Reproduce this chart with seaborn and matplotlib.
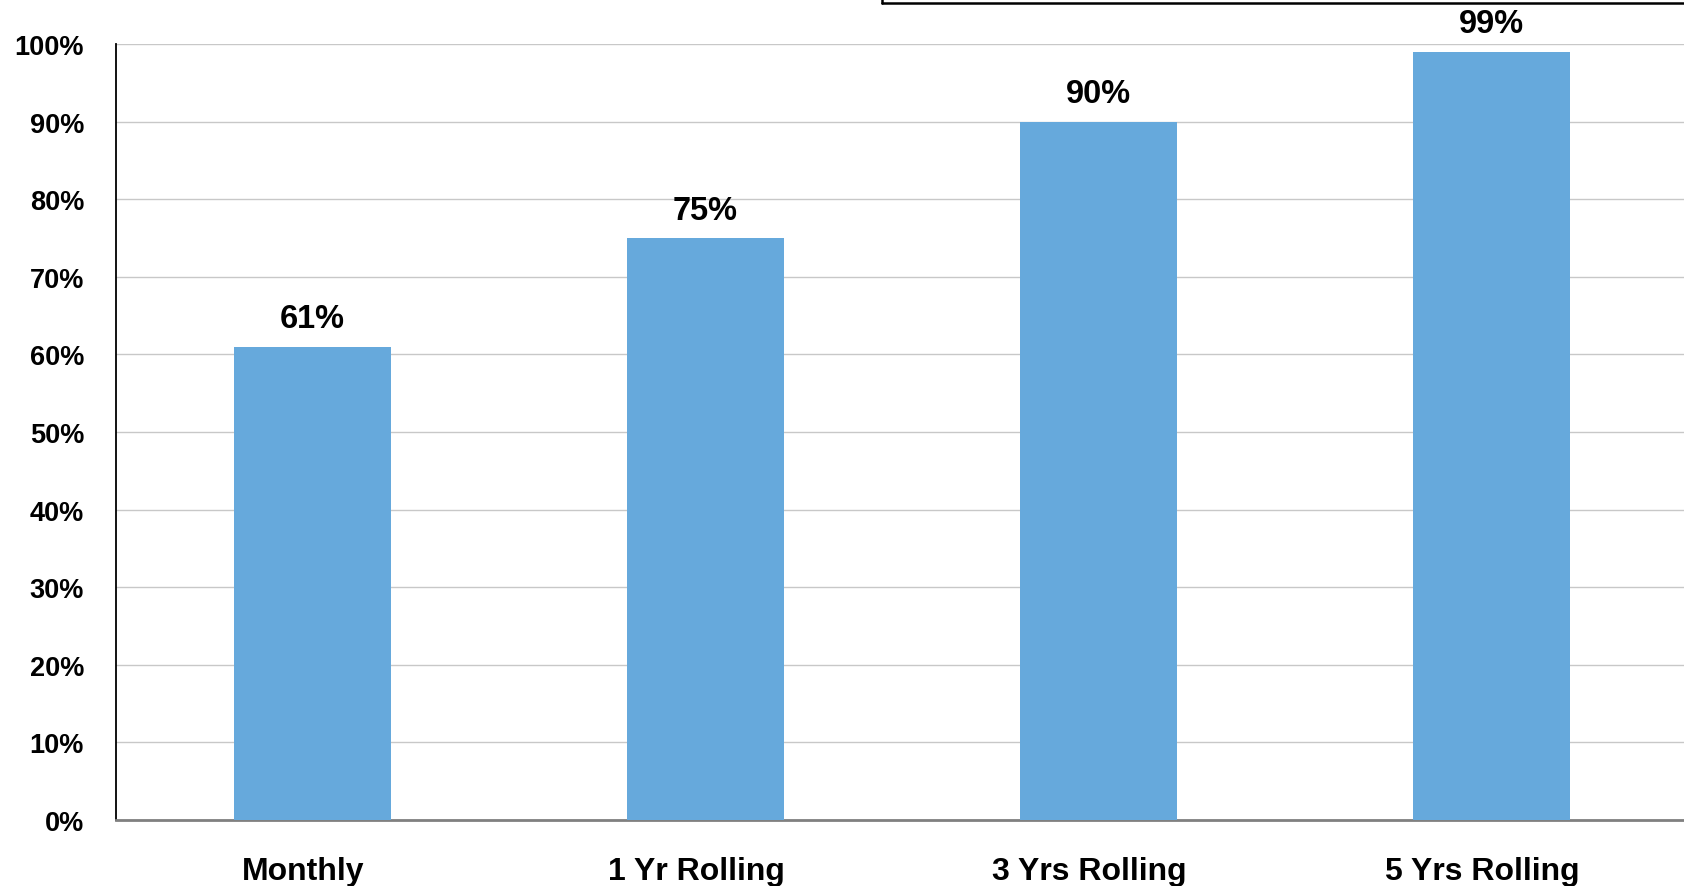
import matplotlib
matplotlib.use("Agg")
import matplotlib.pyplot as plt
from matplotlib.lines import Line2D
from matplotlib.ticker import FuncFormatter, MultipleLocator
from matplotlib.transforms import ScaledTranslation
import seaborn as sns
import pandas as pd

categories = ["Monthly", "1 Yr Rolling", "3 Yrs Rolling", "5 Yrs Rolling"]
values = [61, 75, 90, 99]
bar_labels = ["61%", "75%", "90%", "99%"]

sns.set_theme(style="white")
plt.rcParams['font.family'] = ['Liberation Sans', 'DejaVu Sans']
plt.rcParams['font.weight'] = 'bold'

W, H = 1684, 887
fig = plt.figure(figsize=(W / 100, H / 100), dpi=100)
left, bottom, top = 116, 821, 45
step = 393
ax = fig.add_axes([left / W, (H - bottom) / H, 4 * step / W, (bottom - top) / H])

df = pd.DataFrame({"category": categories, "value": values})
sns.barplot(data=df, x="category", y="value", color="#66A9DC", saturation=1,
            width=0.4, ax=ax, zorder=3, linewidth=0, edgecolor="none")

ax.set_xlim(-0.5, 3.5)
ax.set_ylim(0, 100)
ax.yaxis.set_major_locator(MultipleLocator(10))
ax.yaxis.set_major_formatter(FuncFormatter(lambda v, p: f"{int(round(v))}%"))
ax.grid(axis="y", color="#C8C8C8", linewidth=1.0, zorder=0)
ax.set_axisbelow(True)
ax.set_xlabel("")
ax.set_ylabel("")

ax.set_xticks([-0.5, 0.5, 1.5, 2.5], minor=True)
ax.tick_params(axis="x", which="major", length=0, pad=26, labelsize=23)
ax.tick_params(axis="x", which="minor", length=8, width=1.3, color="black", direction="out")
ax.tick_params(axis="y", length=7, width=1.3, color="#333333", direction="out", pad=16, labelsize=19.5)
for lbl in ax.get_xticklabels() + ax.get_yticklabels():
    lbl.set_fontweight("bold")
    lbl.set_color("black")
shift = ScaledTranslation(-9 / 100, 0, fig.dpi_scale_trans)
for lbl in ax.get_xticklabels():
    lbl.set_transform(lbl.get_transform() + shift)

for s in ["top", "right"]:
    ax.spines[s].set_visible(False)
ax.spines["left"].set_color("black")
ax.spines["left"].set_linewidth(1.3)
ax.spines["bottom"].set_color("#808080")
ax.spines["bottom"].set_linewidth(2)

texts = ax.bar_label(ax.containers[0], labels=bar_labels, padding=9, fontsize=23.5,
                     fontweight="bold", color="black")
shift2 = ScaledTranslation(-2 / 100, 0, fig.dpi_scale_trans)
for t in texts:
    t.set_transform(t.get_transform() + shift2)

# partial box visible at top right
y0 = 1 - 4 / H
x0 = 882 / W
fig.add_artist(Line2D([x0, 1.0], [y0, y0], transform=fig.transFigure, color="black", linewidth=1.8))
fig.add_artist(Line2D([x0, x0], [y0, 1.0], transform=fig.transFigure, color="black", linewidth=1.8))

fig.savefig("out.png", dpi=100)
